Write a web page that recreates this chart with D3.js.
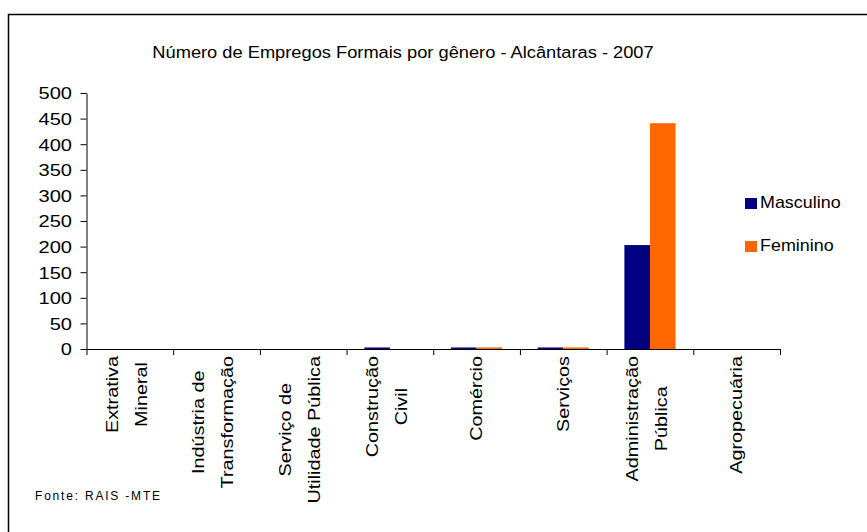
<!DOCTYPE html>
<html>
<head>
<meta charset="utf-8">
<script src="https://cdn.jsdelivr.net/npm/d3@7"></script>
<style>
  body { margin: 0; background: #fff; }
  text { font-family: "Liberation Sans", Arial, sans-serif; fill: #000; }
</style>
</head>
<body>
<svg id="chart"></svg>
<script>
// categories (line breaks as in the original labels)
const categories = [
  ["Extrativa", "Mineral"],
  ["Indústria de", "Transformação"],
  ["Serviço de", "Utilidade Pública"],
  ["Construção", "Civil"],
  ["Comércio"],
  ["Serviços"],
  ["Administração", "Pública"],
  ["Agropecuária"]
];
const series = ["Masculino", "Feminino"];
const masculino = [0, 0, 0, 3, 3, 3, 203, 0];
const feminino = [0, 0, 0, 0, 3, 3, 441, 0];
const yTicks = [0, 50, 100, 150, 200, 250, 300, 350, 400, 450, 500];

const width = 867, height = 532;
const svg = d3.select("#chart")
  .attr("width", width)
  .attr("height", height);

// frame (only top and left edges are visible)
svg.append("path")
  .attr("d", `M8.5,${height} V14.5 H${width}`)
  .attr("fill", "none")
  .attr("stroke", "#000")
  .attr("stroke-width", 1.5);

const margin = { top: 93, left: 86.5, right: 780, bottom: 349 };

const names = categories.map(d => d.join(" "));
const x0 = d3.scaleBand()
  .domain(names)
  .range([margin.left, margin.right])
  .paddingInner(0.41)
  .paddingOuter(0.205);

const x1 = d3.scaleBand()
  .domain(series)
  .range([0, x0.bandwidth()]);

const y = d3.scaleLinear()
  .domain([0, 500])
  .range([margin.bottom, margin.top]);

const color = d3.scaleOrdinal()
  .domain(series)
  .range(["#000080", "#FF6600"]);

// title
svg.append("text")
  .attr("transform", "translate(403,58) scale(1.05,1)")
  .attr("text-anchor", "middle")
  .style("font-size", "17.4px")
  .text("Número de Empregos Formais por gênero - Alcântaras - 2007");

// bars
const values = { Masculino: masculino, Feminino: feminino };
names.forEach((name, i) => {
  const group = svg.append("g")
    .attr("transform", `translate(${x0(name)},0)`);
  series.forEach(s => {
    const v = values[s][i];
    if (v <= 0) return;
    group.append("rect")
      .attr("x", x1(s))
      .attr("y", y(v))
      .attr("width", x1.bandwidth())
      .attr("height", y(0) - y(v))
      .attr("fill", color(s));
  });
});

// y axis
const yAxis = svg.append("g")
  .attr("transform", `translate(${margin.left},0)`)
  .call(d3.axisLeft(y).tickValues(yTicks).tickSize(6).tickSizeOuter(0));
yAxis.select(".domain").attr("stroke", "#000");
yAxis.selectAll(".tick line").attr("stroke", "#000");
yAxis.selectAll(".tick text")
  .attr("x", -14.5 / 1.24)
  .attr("dy", "0.36em")
  .attr("transform", "scale(1.24,1)")
  .style("font-size", "16.2px")
  .style("font-family", "'Liberation Sans', Arial, sans-serif");

// x axis with ticks between categories
const xEdges = d3.scaleLinear()
  .domain([0, categories.length])
  .range([margin.left, margin.right]);
const xAxis = svg.append("g")
  .attr("transform", `translate(0,${margin.bottom})`)
  .call(d3.axisBottom(xEdges)
    .tickValues(d3.range(categories.length + 1))
    .tickFormat("")
    .tickSize(6)
    .tickSizeOuter(0));
xAxis.select(".domain").attr("stroke", "#000");
xAxis.selectAll(".tick line").attr("stroke", "#000");

// category labels, rotated, lines centred on each other
const lineGap = 29;
categories.forEach((lines, i) => {
  const cx = x0(names[i]) + x0.bandwidth() / 2 - (lines.length > 1 ? 3.5 : 0);
  const g = svg.append("g");
  const texts = lines.map((line, j) => {
    const off = (j - (lines.length - 1) / 2) * lineGap;
    return g.append("text")
      .attr("text-anchor", "middle")
      .attr("dy", "0.35em")
      .style("font-size", "16.5px")
      .attr("data-off", off)
      .text(line);
  });
  const maxLen = d3.max(texts, t => t.node().getComputedTextLength()) * 1.2;
  const cy = margin.bottom + 7 + maxLen / 2;
  texts.forEach(t => {
    const off = +t.attr("data-off");
    t.attr("transform", `translate(${cx + off},${cy}) rotate(-90) scale(1.2,1)`);
  });
});

// legend
const legend = svg.append("g");
series.forEach((s, i) => {
  const ly = 198 + i * 43;
  legend.append("rect")
    .attr("x", 745)
    .attr("y", ly)
    .attr("width", 12)
    .attr("height", 11)
    .attr("fill", color(s));
  legend.append("text")
    .attr("transform", `translate(760,${ly + 9.5}) scale(1.12,1)`)
    .style("font-size", "16px")
    .text(s);
});

// source note
svg.append("text")
  .attr("x", 35)
  .attr("y", 500)
  .style("font-size", "12px")
  .style("letter-spacing", "1.8px")
  .text("Fonte: RAIS -MTE");
</script>
</body>
</html>
